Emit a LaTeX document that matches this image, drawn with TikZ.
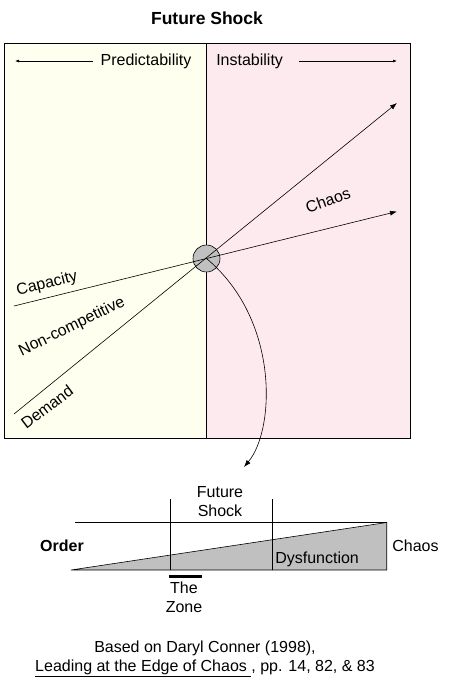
\documentclass[tikz,border=0pt]{standalone}
\usepackage{fontspec}
\setmainfont{Liberation Sans}
\usetikzlibrary{arrows.meta}
\definecolor{ordercol}{RGB}{255,255,240}
\definecolor{chaoscol}{RGB}{252,234,238}
\definecolor{shockgray}{RGB}{192,192,192}
\tikzset{
  lbl/.style={font=\fontsize{16}{19}\selectfont, inner sep=0pt, align=center},
  tip/.style={-{Latex[length=7pt,width=5pt]}},
  smalltip/.style={-{Latex[length=4pt,width=3pt]}},
}

\begin{document}
\begin{tikzpicture}[x=1pt, y=-1pt, line width=0.6pt]
 \useasboundingbox (0,0) rectangle (452,681);
 \node[lbl, font=\fontsize{17.5}{20}\bfseries] (title) at (207,18) {Future Shock};

 \fill[ordercol] (4,43) rectangle (206.5,438);
 \fill[chaoscol] (206.5,43) rectangle (410,438);
 \draw (4,43) rectangle (410,438);
 \draw (206.5,43) -- (206.5,438);

 \node[lbl] (pred) at (146,61) {Predictability};
 \node[lbl, anchor=west] (inst) at (216,61) {Instability};
 \coordinate (predL) at (15,61);
 \coordinate (instR) at (397,61);
 \draw[smalltip] ([xshift=-7pt]pred.west) -- (predL);
 \draw[smalltip] ([xshift=16pt]inst.east) -- (instR);

 \node[circle, draw, fill=shockgray, minimum size=27pt, inner sep=0pt] (pivot) at (206.5,258.5) {};
 \coordinate (capL) at (14,306);
 \coordinate (capR) at (397,211.5);
 \coordinate (demL) at (14,414);
 \coordinate (demR) at (397,103);
 \coordinate (drop) at (244,467);
 \draw[tip] (capL) -- (capR);
 \draw[tip] (demL) -- (demR);
 \draw[tip] (pivot.center) .. controls (280,320) and (275,430) .. (drop);

 \node[lbl, rotate=14] (capacity) at (47,284) {Capacity};
 \node[lbl, rotate=26] (noncomp) at (72,327) {Non-competitive};
 \node[lbl, rotate=37] (demand) at (47,407) {Demand};
 \node[lbl, rotate=20] (chaos) at (328,200) {Chaos};

 \coordinate (oL) at (71,570);
 \coordinate (oR) at (386.7,570);
 \coordinate (cT) at (386.7,522.5);
 \coordinate (tL) at (75,522.5);
 \fill[shockgray] (oL) -- (cT) -- (oR) -- cycle;
 \draw (oL) -- (cT) -- (oR) -- cycle;
 \draw (tL) -- (cT);
 \draw (170.3,499.3) -- (170.3,570);
 \draw (272.5,499.3) -- (272.5,570);
 \draw[line width=3pt] (169,576.3) -- (201.7,576.3);

 \node[lbl] (fshock) at (220,502) {Future\\Shock};
 \node[lbl, font=\fontsize{16}{19}\bfseries] (order) at (62,546) {Order};
 \node[lbl] (chaosend) at (415.5,546) {Chaos};
 \node[lbl, anchor=west] (dysf) at (275,559) {Dysfunction};
 \node[lbl] (zone) at (184,597) {The\\Zone};

 \node[lbl] (cite) at (205,659) {Based on Daryl Conner (1998),\\\underline{Leading at the Edge of Chaos }, pp. 14, 82, \& 83};
\end{tikzpicture}
\end{document}
